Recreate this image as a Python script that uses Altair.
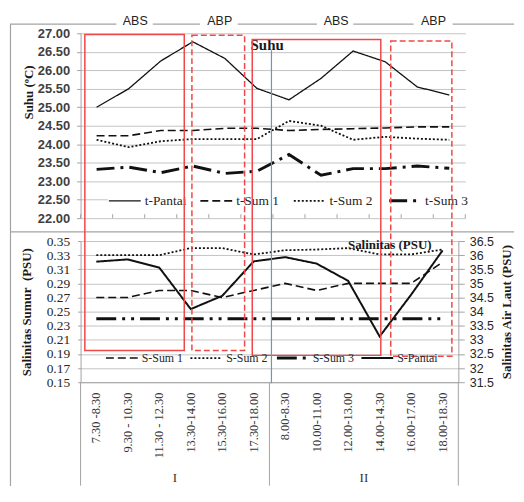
import altair as alt
import pandas as pd

# ---------------- data ----------------
categories = ["7.30 -8.30", "9.30 - 10.30", "11.30 - 12.30", "13.30-14.00",
              "15.30-16.00", "17.30-18.00", "8.00-8.30", "10.00-11.00",
              "12.00-13.00", "14.00-14.30", "16.00-17.00", "18.00-18.30"]
period_names = ["I", "II"]
zone_names = ["ABS", "ABP", "ABS", "ABP"]

temp_series = ["t-Pantai", "t-Sum 1", "t-Sum 2", "t-Sum 3"]
t_pantai = [25.00, 25.50, 26.25, 26.77, 26.32, 25.51, 25.20, 25.78, 26.52, 26.23, 25.55, 25.33]
t_sum1 = [24.23, 24.23, 24.37, 24.37, 24.43, 24.43, 24.37, 24.40, 24.42, 24.44, 24.47, 24.47]
t_sum2 = [24.12, 23.92, 24.08, 24.14, 24.14, 24.14, 24.63, 24.50, 24.12, 24.20, 24.15, 24.12]
t_sum3 = [23.32, 23.38, 23.23, 23.41, 23.21, 23.27, 23.72, 23.16, 23.34, 23.34, 23.41, 23.35]

sal_series = ["S-Sum 1", "S-Sum 2", "S-Sum 3", "S-Pantai"]
s_sum1 = [0.270, 0.270, 0.280, 0.280, 0.270, 0.280, 0.290, 0.280, 0.290, 0.290, 0.290, 0.320]
s_sum2 = [0.330, 0.330, 0.330, 0.340, 0.340, 0.331, 0.337, 0.338, 0.340, 0.331, 0.331, 0.338]
s_sum3 = [0.240, 0.240, 0.240, 0.240, 0.240, 0.240, 0.240, 0.240, 0.240, 0.240, 0.240, 0.240]
s_pantai = [35.77, 35.85, 35.56, 34.09, 34.56, 35.78, 35.93, 35.70, 35.09, 33.12, 34.60, 36.17]

temp_ticks = [22.0, 22.5, 23.0, 23.5, 24.0, 24.5, 25.0, 25.5, 26.0, 26.5, 27.0]
well_ticks = [0.15, 0.17, 0.19, 0.21, 0.23, 0.25, 0.27, 0.29, 0.31, 0.33, 0.35]
sea_ticks = [31.5, 32.0, 32.5, 33.0, 33.5, 34.0, 34.5, 35.0, 35.5, 36.0, 36.5]


def long_table(names, arrays, key):
    rows = []
    for name, arr in zip(names, arrays):
        for cat, val in zip(categories, arr):
            rows.append({"cat": cat, key: name, "value": val})
    return pd.DataFrame(rows)


temp_df = long_table(temp_series, [t_pantai, t_sum1, t_sum2, t_sum3], "tseries")
well_df = long_table(sal_series[:3], [s_sum1, s_sum2, s_sum3], "sseries")
sea_df = long_table(sal_series[3:], [s_pantai], "sseries")
cat_df = pd.DataFrame({"cat": categories})
sep_df = pd.DataFrame({"cat": [categories[0], categories[6]]})
period_df = pd.DataFrame({"cat": [categories[3], categories[9]], "label": period_names})
one = pd.DataFrame({"k": [0]})

# ---------------- style ----------------
TW, TH, BW, BH = 387, 186, 380, 142
INK = "#111111"
GRID = "#c4c4c4"
FRAME = "#a3a3a3"
RED = "#f04848"
BLUE = "#5b9bd5"
SANS = "Liberation Sans"
SERIF = "Liberation Serif"
temp_widths = [1.3, 1.6, 1.8, 3.0]
sal_widths = [1.6, 1.8, 3.0, 2.0]


def rule(x, y, x2=None, y2=None, color=FRAME, width=1.0):
    enc = {"x": alt.value(x), "y": alt.value(y)}
    if x2 is not None:
        enc["x2"] = alt.value(x2)
    if y2 is not None:
        enc["y2"] = alt.value(y2)
    return alt.Chart(one).mark_rule(color=color, strokeWidth=width).encode(**enc)


def box(x, x2, y, y2, dash=None):
    mk = dict(fill="transparent", stroke=RED, strokeWidth=1.5)
    if dash:
        mk["strokeDash"] = dash
    return alt.Chart(one).mark_rect(**mk).encode(
        x=alt.value(x), x2=alt.value(x2), y=alt.value(y), y2=alt.value(y2))


def label(text, x, y, font, size, weight="normal", align="left",
          baseline="alphabetic", color="#222222"):
    return alt.Chart(one).mark_text(
        text=text, font=font, fontSize=size, fontWeight=weight, align=align,
        baseline=baseline, color=color).encode(x=alt.value(x), y=alt.value(y))


def legend(x, y, size, colpad, names, widths, fill=None):
    expr = "1.7"
    for n, w in zip(names, widths):
        expr = f"(datum && datum.value === '{n}') ? {min(w, 3.0)} : ({expr})"
    kw = dict(title=None, orient="none", legendX=x, legendY=y, direction="horizontal",
              padding=0, symbolType="stroke", symbolSize=1024, symbolStrokeColor=INK,
              symbolStrokeWidth={"expr": f"({expr})"}, labelFont=SERIF, labelFontSize=size,
              labelColor="#262626", labelOffset=3, columnPadding=colpad, labelLimit=0)
    if fill:
        kw["fillColor"] = fill
    return alt.Legend(**kw)


def line_layers(df, key, names, widths, dash_scale, x_enc, y_enc, leg):
    out = []
    for name, w in zip(names, widths):
        out.append(
            alt.Chart(df).transform_filter(alt.datum[key] == name)
            .mark_line(color=INK, strokeWidth=w, strokeCap="butt")
            .encode(x=x_enc, y=y_enc,
                    strokeDash=alt.StrokeDash(f"{key}:N", scale=dash_scale, legend=leg))
        )
    return out


# ---------------- top panel (temperature) ----------------
xs_top = alt.Scale(type="band", domain=categories, paddingInner=0, paddingOuter=0)
x_top = alt.X("cat:N", scale=xs_top, axis=None)
y_top = alt.Y("value:Q", scale=alt.Scale(domain=[22, 27], nice=False, zero=False),
              axis=alt.Axis(values=temp_ticks, format=".2f", title="Suhu (ºC)",
                            titleFont=SERIF, titleFontSize=13, titleFontWeight="bold",
                            titleColor="#1a1a1a", titleAngle=270, titleAlign="center",
                            titleBaseline="middle", titleX=-52, titleY=59,
                            labelFont=SANS, labelFontSize=13, labelFontWeight="bold",
                            labelColor="#3f3f3f", labelPadding=7, tickSize=4,
                            tickColor=FRAME, domainColor=FRAME, gridColor=GRID, grid=True))
temp_dash = alt.Scale(domain=temp_series, range=[[1, 0], [8, 4], [2, 2], [18, 6, 3, 6]])
temp_lines = line_layers(temp_df, "tseries", temp_series, temp_widths, temp_dash,
                         x_top, y_top,
                         legend(27.5, 151.3, 13.5, 10, temp_series, temp_widths, fill="white"))

top_ticks = alt.Chart(cat_df).mark_rule(color=FRAME, strokeWidth=1).encode(
    x=alt.X("cat:N", scale=xs_top, axis=None, bandPosition=0),
    y=alt.value(TH - 4), y2=alt.value(TH))

canvas = alt.Chart(one).mark_rect(fill="transparent").encode(
    x=alt.value(-71), x2=alt.value(436), y=alt.value(-23), y2=alt.value(457))

frame_layers = [
    rule(-70.5, -9.3, y2=455.5, width=1.2),
    rule(-71, -9.3, x2=36, width=1.2),
    rule(72.7, -9.3, x2=120, width=1.2),
    rule(158, -9.3, x2=237.7, width=1.2),
    rule(274.3, -9.3, x2=335, width=1.2),
    rule(374.3, -9.3, x2=436, width=1.2),
    rule(-71, 199.7, x2=436, width=1.2),
    rule(TW, TH - 4, y2=TH),
]
zone_x = [55, 140, 257, 355]
zone_layers = [label(t, zx, -8.7, SANS, 12.5, align="center", color="#222222")
               for t, zx in zip(zone_names, zone_x)]

top = alt.layer(
    canvas, *temp_lines, top_ticks, *frame_layers, *zone_layers,
    label("Suhu", 171, 16.7, SERIF, 15, weight="bold", color="#1a1a1a"),
).properties(width=TW, height=TH)

# ---------------- bottom panel (salinity) ----------------
xs_bot = alt.Scale(type="band", domain=categories, paddingInner=0, paddingOuter=0)
x_axis_bot = alt.Axis(title=None, labelAngle=270, labelAlign="right", labelBaseline="middle",
                      labelPadding=10, labelFont=SERIF, labelFontSize=12.5, labelColor="#333333",
                      ticks=False, domain=True, domainColor=FRAME, grid=False, labelLimit=0)
x_bot = alt.X("cat:N", scale=xs_bot, axis=x_axis_bot)
y_left = alt.Y("value:Q", scale=alt.Scale(domain=[0.15, 0.35], nice=False, zero=False),
               axis=alt.Axis(orient="left", values=well_ticks, format=".2f",
                             title="Salinitas Sumur\u00a0 (PSU)", titleFont=SERIF, titleFontSize=13,
                             titleFontWeight="bold", titleColor="#1a1a1a", titleAngle=270,
                             titleBaseline="middle", titleX=-54, labelFont=SERIF,
                             labelFontSize=13.5, labelColor="#262626", labelPadding=8,
                             tickSize=3, tickColor=FRAME, domainColor=FRAME, gridColor=GRID,
                             grid=True))
y_right = alt.Y("value:Q", scale=alt.Scale(domain=[31.5, 36.5], nice=False, zero=False),
                axis=alt.Axis(orient="right", values=sea_ticks, format="~g",
                              title="Salinitas Air Laut (PSU)", titleFont=SERIF, titleFontSize=13,
                              titleFontWeight="bold", titleColor="#1a1a1a", titleAngle=270,
                              titleBaseline="middle", titleX=48, labelFont=SANS,
                              labelFontSize=12.5, labelColor="#262626", labelPadding=5,
                              tickSize=6, tickColor=FRAME, domainColor=FRAME, grid=False))
sal_dash = alt.Scale(domain=sal_series, range=[[8, 4], [2, 2], [20, 6, 3, 6, 3, 6], [1, 0]])
sal_leg = legend(24.5, 100.7, 12, 3, sal_series, sal_widths)
left_lines = line_layers(well_df, "sseries", sal_series[:3], sal_widths[:3], sal_dash,
                         x_bot, y_left, sal_leg)
right_lines = line_layers(sea_df, "sseries", sal_series[3:], sal_widths[3:], sal_dash,
                          x_bot, y_right, sal_leg)

separators = alt.Chart(sep_df).mark_rule(color=FRAME, strokeWidth=1).encode(
    x=alt.X("cat:N", scale=xs_bot, axis=x_axis_bot, bandPosition=0),
    y=alt.value(BH), y2=alt.value(246))
period_text = alt.Chart(period_df).mark_text(font=SERIF, fontSize=13, color="#333333",
                                             baseline="middle").encode(
    x=alt.X("cat:N", scale=xs_bot, axis=x_axis_bot, bandPosition=0),
    y=alt.value(238), text="label:N")

boxes = [
    box(4.3, 104.3, -207.7, 110),
    box(112, 165, -207, 110, dash=[6, 3]),
    box(172.7, 302, -202.7, 115),
    box(312, 373.5, -201.3, 116, dash=[6, 3]),
]
blue_line = rule(192, -192, y2=143, color=BLUE, width=1.2)

bottom = alt.layer(
    alt.layer(*left_lines), alt.layer(*right_lines),
    separators, rule(BW, BH, y2=246), period_text, *boxes, blue_line,
    label("Salinitas (PSU)", 269, 8.3, SERIF, 13, weight="bold", color="#1a1a1a"),
).resolve_scale(y="independent").properties(width=BW, height=BH)

chart = alt.vconcat(top, bottom, spacing=23, bounds="flush").resolve_scale(
    strokeDash="independent").resolve_legend(strokeDash="independent").configure_view(
    stroke="transparent").properties(padding=0)

chart.save("out.html", embed_options={"renderer": "svg", "actions": False})
